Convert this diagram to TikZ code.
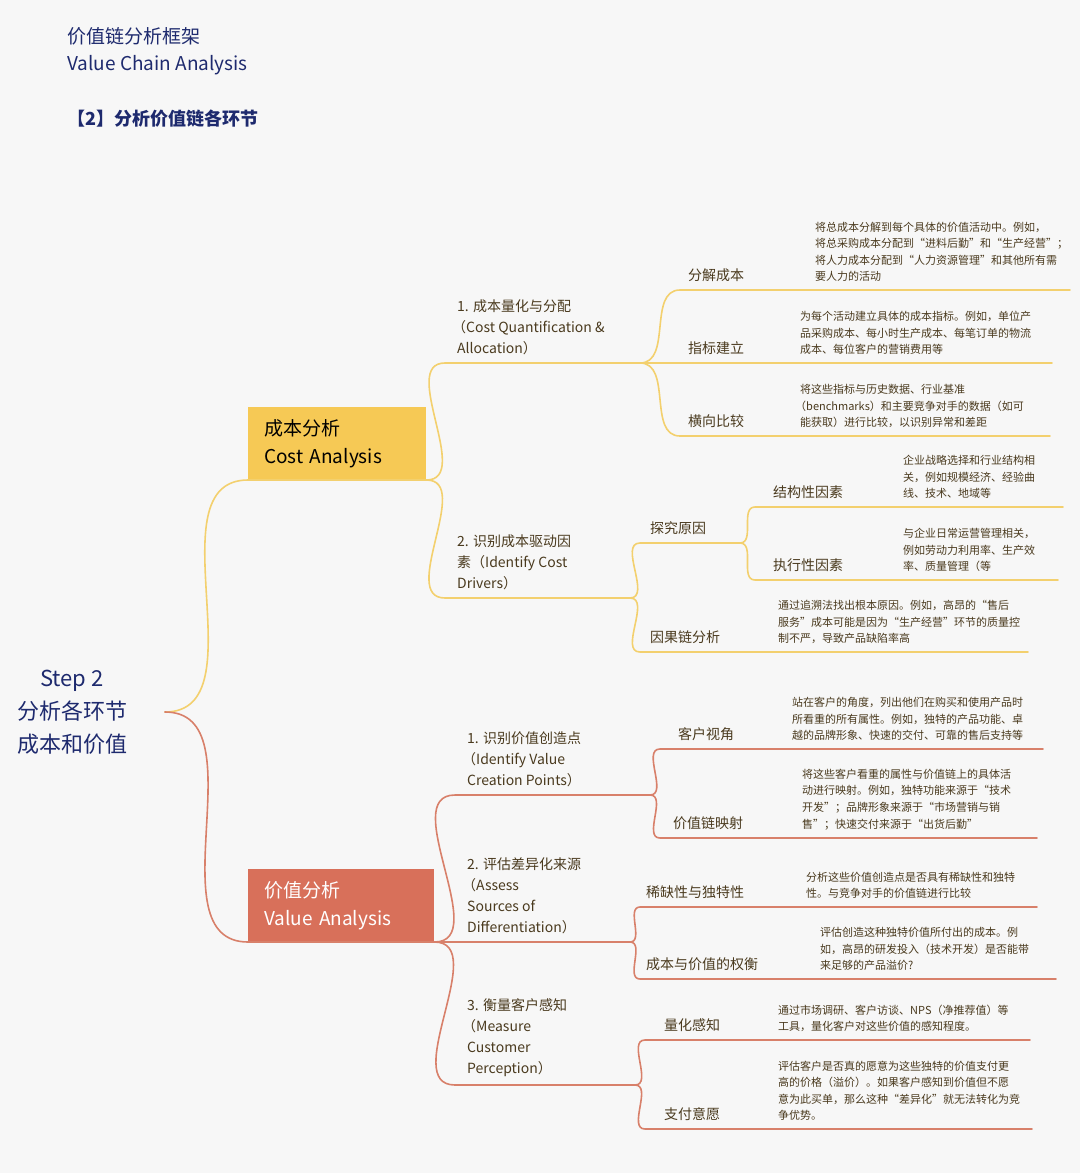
\documentclass[tikz,border=0pt]{standalone}
\usepackage{fontspec}
\setmainfont{Noto Sans CJK SC}
\usepackage{tikz}
\usetikzlibrary{positioning,calc}
\definecolor{bgGray}{HTML}{F7F7F7}
\definecolor{navyTxt}{HTML}{1E2A6E}
\definecolor{brownTxt}{HTML}{4A3A1E}
\definecolor{costYel}{HTML}{F6C955}
\definecolor{costLine}{HTML}{F3D06E}
\definecolor{valRed}{HTML}{D8705A}
\definecolor{valLine}{HTML}{D8806A}
\tikzset{
  titletxt/.style={font=\fontsize{19}{27}\selectfont, text=navyTxt, anchor=north west,
                   align=left, inner sep=0pt},
  rootnode/.style={font=\fontsize{22}{33}\selectfont, text=navyTxt, align=center},
  boxnode/.style={anchor=south west, align=left, inner sep=0pt, text width=140pt,
                  minimum height=73pt, font=\fontsize{19}{28}\selectfont},
  subnode/.style={font=\fontsize{14}{21}\selectfont, text=brownTxt, align=left,
                  anchor=south west, inner sep=0pt},
  lblnode/.style={font=\fontsize{14}{20}\selectfont, text=brownTxt, anchor=base west,
                  inner sep=0pt},
  descnode/.style={font=\fontsize{11}{16.6}\selectfont, text=brownTxt, align=left,
                   anchor=south west, inner sep=0pt},
  ybranch/.style={costLine, line width=1.6pt, line cap=round},
  rbranch/.style={valLine, line width=1.6pt, line cap=round},
}

\begin{document}
\begin{tikzpicture}[x=1pt, y=-1pt]
\fill[bgGray] (0,0) rectangle (1080,1173);
\useasboundingbox (0,0) rectangle (1080,1173);

%% Title
\node[titletxt] (title) at (67,27) {价值链分析框架\\Value Chain Analysis};
\node[titletxt, font=\fontsize{18}{24}\selectfont\bfseries] (step) at (67,110) {【2】分析价值链各环节};

%% Root and the two boxes
\node[rootnode] (root) at (72,712) {Step 2\\分析各环节\\成本和价值};
\coordinate (rootR) at (165,712);
\node[boxnode, fill=costYel, text=black, text width=146pt, inner xsep=16pt] (cost) at (248,480)
  {成本分析\\Cost Analysis};
\node[boxnode, fill=valRed, text=white, text width=154pt, inner xsep=16pt] (val) at (248,942)
  {价值分析\\Value Analysis};
\draw[ybranch] (rootR) to[out=0,in=180] (cost.south west) -- (cost.south east);
\draw[rbranch] (rootR) to[out=0,in=180] (val.south west) -- (val.south east);

%% Second level: name / colour / line y / x left / x right / text / parent
\foreach \nm/\sty/\ly/\xa/\xb/\txt/\prt in {
  cA/ybranch/363/445/640/{1. 成本量化与分配\\\hspace*{-5pt}（Cost Quantification \&\\Allocation）}/cost,
  cB/ybranch/598/445/630/{2. 识别成本驱动因\\素（Identify Cost\\Drivers）}/cost,
  vA/rbranch/795/455/650/{1. 识别价值创造点\\\hspace*{-5pt}（Identify Value\\Creation Points）}/val,
  vB/rbranch/942/455/630/{2. 评估差异化来源\\\hspace*{-5pt}（Assess\\Sources of\\Differentiation）}/val,
  vC/rbranch/1085/455/635/{3. 衡量客户感知\\\hspace*{-5pt}（Measure\\Customer\\Perception）}/val%
} {
  \coordinate (\nm L) at (\xa,\ly);
  \coordinate (\nm R) at (\xb,\ly);
  \node[subnode] (\nm) at (\xa+12,\ly-8) {\txt};
  \draw[\sty] (\prt.south east) to[out=0,in=180] (\nm L) -- (\nm R);
}

%% 探究原因 (middle level under cB)
\coordinate (cBaL) at (640,543);
\coordinate (cBaR) at (740,543);
\node[lblnode] (cBa) at (650,533) {探究原因};
\draw[ybranch] (cBR) to[out=0,in=180] (cBaL) -- (cBaR);

%% Leaves: name / colour / parent / line y / x left / x right / label x / label / desc x / desc
\foreach \nm/\sty/\prt/\ly/\xa/\xb/\lx/\lbl/\dx/\dtxt in {
  lA/ybranch/cA/290/680/1070/688/分解成本/815/{将总成本分解到每个具体的价值活动中。例如，\\将总采购成本分配到“进料后勤”和“生产经营”；\\将人力成本分配到“人力资源管理”和其他所有需\\要人力的活动},
  lB/ybranch/cA/363/680/1052/688/指标建立/800/{为每个活动建立具体的成本指标。例如，单位产\\品采购成本、每小时生产成本、每笔订单的物流\\成本、每位客户的营销费用等},
  lC/ybranch/cA/436/680/1050/688/横向比较/800/{将这些指标与历史数据、行业基准\\\hspace*{-5pt}（benchmarks）和主要竞争对手的数据（如可\\能获取）进行比较，以识别异常和差距},
  lD/ybranch/cBa/507/755/1063/773/结构性因素/903/{企业战略选择和行业结构相\\关，例如规模经济、经验曲\\线、技术、地域等},
  lE/ybranch/cBa/580/755/1058/773/执行性因素/903/{与企业日常运营管理相关，\\例如劳动力利用率、生产效\\率、质量管理（等},
  lF/ybranch/cB/652/640/1028/650/因果链分析/778/{通过追溯法找出根本原因。例如，高昂的“售后\\服务”成本可能是因为“生产经营”环节的质量控\\制不严，导致产品缺陷率高},
  lG/rbranch/vA/749/660/1043/678/客户视角/792/{站在客户的角度，列出他们在购买和使用产品时\\所看重的所有属性。例如，独特的产品功能、卓\\越的品牌形象、快速的交付、可靠的售后支持等},
  lH/rbranch/vA/838/660/1037/673/价值链映射/802/{将这些客户看重的属性与价值链上的具体活\\动进行映射。例如，独特功能来源于“技术\\开发”；品牌形象来源于“市场营销与销\\售”；快速交付来源于“出货后勤”},
  lI/rbranch/vB/907/640/1037/646/稀缺性与独特性/806/{分析这些价值创造点是否具有稀缺性和独特\\性。与竞争对手的价值链进行比较},
  lJ/rbranch/vB/979/640/1056/646/成本与价值的权衡/820/{评估创造这种独特价值所付出的成本。例\\如，高昂的研发投入（技术开发）是否能带\\来足够的产品溢价?},
  lK/rbranch/vC/1040/645/1030/664/量化感知/778/{通过市场调研、客户访谈、NPS（净推荐值）等\\工具，量化客户对这些价值的感知程度。},
  lL/rbranch/vC/1129/645/1032/664/支付意愿/778/{评估客户是否真的愿意为这些独特的价值支付更\\高的价格（溢价）。如果客户感知到价值但不愿\\意为此买单，那么这种“差异化”就无法转化为竞\\争优势。}%
} {
  \coordinate (\nm L) at (\xa,\ly);
  \coordinate (\nm R) at (\xb,\ly);
  \node[lblnode] (\nm t) at (\lx,\ly-10) {\lbl};
  \node[descnode] (\nm d) at (\dx,\ly-8) {\dtxt};
  \draw[\sty] (\prt R) to[out=0,in=180] (\nm L) -- (\nm R);
}
\end{tikzpicture}
\end{document}
